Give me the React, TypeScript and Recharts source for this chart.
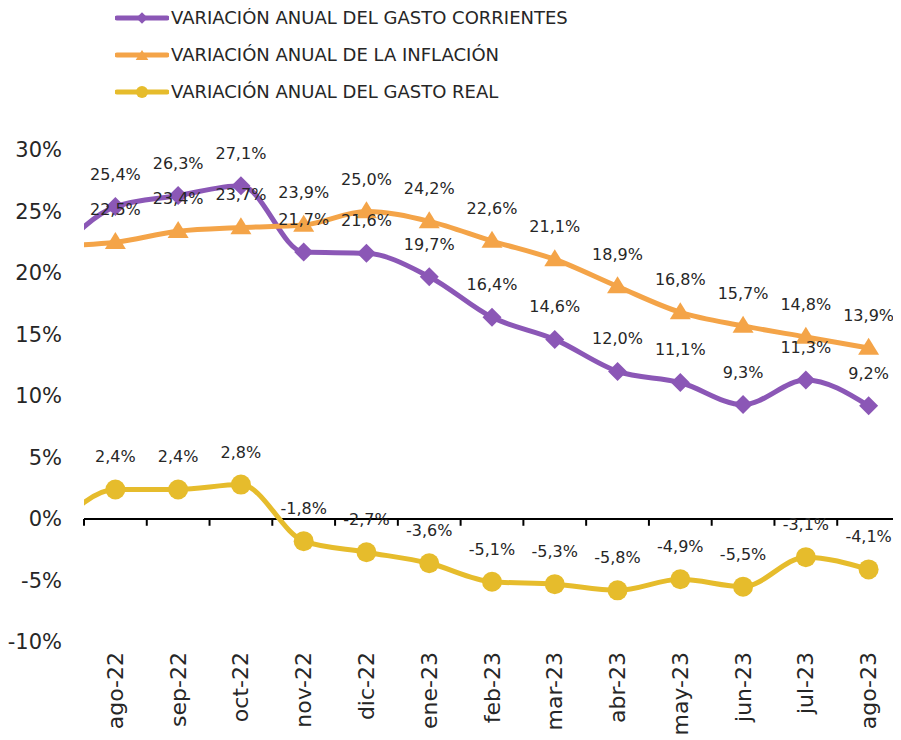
import { LineChart, Line, XAxis, YAxis, ReferenceLine, Legend, LabelList } from 'recharts';

// jul-22 is only used so the lines run in from the left edge, it is cut off by the axis domain
const months = ['jul-22', 'ago-22', 'sep-22', 'oct-22', 'nov-22', 'dic-22', 'ene-23', 'feb-23', 'mar-23', 'abr-23', 'may-23', 'jun-23', 'jul-23', 'ago-23'];
const gastoCorriente = [21.2, 25.4, 26.3, 27.1, 21.7, 21.6, 19.7, 16.4, 14.6, 12.0, 11.1, 9.3, 11.3, 9.2];
const inflacion = [22.2, 22.5, 23.4, 23.7, 23.9, 25.0, 24.2, 22.6, 21.1, 18.9, 16.8, 15.7, 14.8, 13.9];
const gastoReal = [-1.0, 2.4, 2.4, 2.8, -1.8, -2.7, -3.6, -5.1, -5.3, -5.8, -4.9, -5.5, -3.1, -4.1];
const yTicks = [-10, -5, 0, 5, 10, 15, 20, 25, 30];

const PURPLE = '#8B57B6';
const ORANGE = '#F4A448';
const YELLOW = '#E6BC2C';
const FONT = '"DejaVu Sans", sans-serif';

const series = [
  { key: 'corriente', name: 'VARIACIÓN ANUAL DEL GASTO CORRIENTES', color: PURPLE, shape: 'diamond' },
  { key: 'inflacion', name: 'VARIACIÓN ANUAL DE LA  INFLACIÓN', color: ORANGE, shape: 'triangle' },
  { key: 'real', name: 'VARIACIÓN ANUAL DEL GASTO REAL', color: YELLOW, shape: 'circle' },
];

const data = months.map((m, i) => ({
  idx: i,
  month: m,
  corriente: gastoCorriente[i],
  inflacion: inflacion[i],
  real: gastoReal[i],
}));

const visibleTicks = months.map((_, i) => i).filter((i) => i > 0);
const boundaries = months.map((_, i) => i + 0.5);

function Marker({ shape, x, y, color, s = 1 }: any) {
  if (shape === 'diamond') {
    const r = 9.5 * s;
    return <path d={`M${x},${y - r}L${x + r},${y}L${x},${y + r}L${x - r},${y}Z`} fill={color} />;
  }
  if (shape === 'triangle') {
    const w = 10.5 * s;
    const h = 17 * s;
    return <path d={`M${x},${y - h * 0.6}L${x + w},${y + h * 0.4}L${x - w},${y + h * 0.4}Z`} fill={color} />;
  }
  return <circle cx={x} cy={y} r={10 * s} fill={color} />;
}

const makeDot = (shape: string, color: string) => (props: any) => {
  const { cx, cy, index } = props;
  if (index === 0 || cx == null) return <g key={`d-${index}`} />;
  return <Marker key={`d-${index}`} shape={shape} x={cx} y={cy} color={color} />;
};

function ValueLabel(props: any) {
  const { x, y, value, index } = props;
  if (index === 0 || value == null) return null;
  return (
    <text x={x} y={y - 27} textAnchor="middle" fontSize={16} fontFamily={FONT} fill="#262626">
      {value.toFixed(1).replace('.', ',')}%
    </text>
  );
}

function MonthTick({ x, y, payload }: any) {
  const ty = y + 2;
  return (
    <text
      x={x}
      y={ty}
      transform={`rotate(-90, ${x}, ${ty})`}
      textAnchor="end"
      dominantBaseline="central"
      fontSize={22}
      fontFamily={FONT}
      fill="#262626"
    >
      {months[payload.value]}
    </text>
  );
}

function LegendBox() {
  return (
    <div style={{ fontFamily: FONT, fontSize: 18, color: '#262626' }}>
      {series.map((s) => (
        <div key={s.key} style={{ display: 'flex', alignItems: 'center', height: 37 }}>
          <svg width={54} height={22}>
            <line x1={2} y1={11} x2={52} y2={11} stroke={s.color} strokeWidth={5} strokeLinecap="round" />
            <Marker shape={s.shape} x={27} y={s.shape === 'triangle' ? 12 : 11} color={s.color} s={0.6} />
          </svg>
          <span style={{ marginLeft: 2, whiteSpace: 'nowrap' }}>{s.name}</span>
        </div>
      ))}
    </div>
  );
}

export default function App() {
  return (
    <div style={{ width: 893, height: 732, background: '#fff' }}>
      <LineChart width={893} height={732} data={data} margin={{ top: 142, right: 1, bottom: 0, left: 0 }}>
        <XAxis
          dataKey="idx"
          type="number"
          domain={[0.5, 13.5]}
          allowDataOverflow
          ticks={visibleTicks}
          interval={0}
          height={98}
          axisLine={false}
          tickLine={false}
          tick={<MonthTick />}
        />
        <YAxis
          type="number"
          domain={[-10, 30]}
          ticks={yTicks}
          width={76}
          axisLine={false}
          tickLine={false}
          tickSize={12}
          tickMargin={10}
          tickFormatter={(v: number) => `${v}%`}
          tick={{ fontSize: 21, fontFamily: FONT, fill: '#262626' }}
        />
        <Legend
          layout="vertical"
          align="center"
          verticalAlign="middle"
          wrapperStyle={{ top: -9, left: 107, width: 560 }}
          content={() => <LegendBox />}
        />
        <ReferenceLine y={0} stroke="#000" strokeWidth={2} />
        {boundaries.map((b) => (
          <ReferenceLine
            key={b}
            segment={[
              { x: b, y: 0 },
              { x: b, y: -0.55 },
            ]}
            stroke="#000"
            strokeWidth={2}
          />
        ))}
        {series.map((s) => (
          <Line
            key={s.key}
            dataKey={s.key}
            type="monotone"
            stroke={s.color}
            strokeWidth={5}
            dot={makeDot(s.shape, s.color)}
            activeDot={false}
            isAnimationActive={false}
          />
        ))}
        {series.map((s) => (
          <Line
            key={`${s.key}-labels`}
            dataKey={s.key}
            stroke="none"
            dot={false}
            activeDot={false}
            legendType="none"
            isAnimationActive={false}
          >
            <LabelList dataKey={s.key} content={<ValueLabel />} />
          </Line>
        ))}
      </LineChart>
    </div>
  );
}
